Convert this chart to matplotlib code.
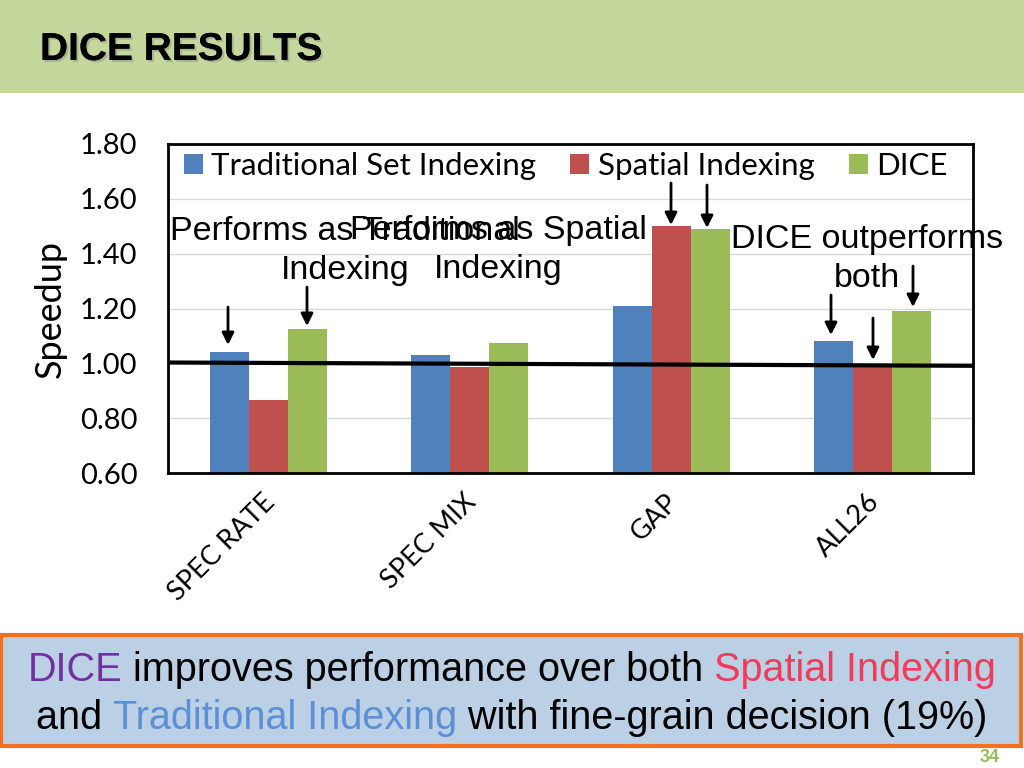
import matplotlib
matplotlib.use("Agg")
import matplotlib.pyplot as plt
import matplotlib.patheffects as pe
import matplotlib.transforms as mtransforms
from matplotlib.patches import Rectangle
import numpy as np

categories = ["SPEC RATE", "SPEC MIX", "GAP", "ALL26"]
traditional = [1.04, 1.03, 1.21, 1.08]
spatial = [0.865, 0.985, 1.50, 0.995]
dice = [1.125, 1.075, 1.49, 1.19]
series_names = ["Traditional Set Indexing", "Spatial Indexing", "DICE"]
yticks = [0.60, 0.80, 1.00, 1.20, 1.40, 1.60, 1.80]

W, H = 1024, 768
fig = plt.figure(figsize=(W / 100, H / 100), dpi=100)
fig.patch.set_facecolor("white")

def fx(px):
    return px / W

def fy(py):
    return 1 - py / H

# header band
fig.patches.append(Rectangle((0, fy(93)), 1, 93 / H, transform=fig.transFigure,
                             facecolor="#C4D79C", edgecolor="none", zorder=0))
fig.text(fx(40), fy(50), "DICE RESULTS", fontsize=28, fontweight="bold",
         family="Liberation Sans", va="center", ha="left", color="black",
         path_effects=[pe.withSimplePatchShadow(offset=(1.5, -1.5), shadow_rgbFace="#808080", alpha=0.4),
                       pe.Normal()])

# chart
ax = fig.add_axes([fx(168), fy(473), fx(973) - fx(168), (473 - 144) / H])
x = np.arange(len(categories))
bw = 0.194
colors = ["#4F81BD", "#C0504D", "#9BBB59"]
for i, (vals, c, name) in enumerate(zip([traditional, spatial, dice], colors, series_names)):
    ax.bar(x + (i - 1) * bw, vals, width=bw, color=c, label=name, zorder=2)

ax.set_xlim(-0.5, len(categories) - 0.5)
ax.set_ylim(0.60, 1.80)
ax.set_yticks(yticks)
ax.set_yticklabels([f"{v:.2f}" for v in yticks], family="Lato", fontsize=21)
ax.tick_params(axis="y", length=0, pad=22)
ax.tick_params(axis="x", length=0)
ax.yaxis.grid(True, color="#D9D9D9", linewidth=1, zorder=0)
ax.set_axisbelow(True)
for s in ax.spines.values():
    s.set_linewidth(2)
    s.set_color("black")
ax.set_xticks(x)
ax.set_xticklabels(categories, rotation=45, ha="right", va="top", rotation_mode="anchor",
                   family="Lato", fontsize=19.5)
shift = mtransforms.ScaledTranslation(-6 / 100, 0, fig.dpi_scale_trans)
for lbl in ax.get_xticklabels():
    lbl.set_y(-0.035)
    lbl.set_transform(lbl.get_transform() + shift)
ax.set_ylabel("Speedup", family="Lato", fontsize=26)
ax.yaxis.set_label_coords((67 - 168) / 805, 0.5)

# baseline at 1.0 (slightly tilted like the hand-drawn line)
ax.plot([-0.5, 3.5], [1.003, 0.991], color="black", linewidth=3, zorder=4, solid_capstyle="butt")

leg = ax.legend(loc="upper center", ncol=3, frameon=False, prop={"family": "Lato", "size": 22.5},
                handlelength=0.6, handleheight=0.6, handletextpad=0.27, columnspacing=1.1,
                bbox_to_anchor=(0.494, 1.06))

# annotations
afont = dict(family="Liberation Sans", fontsize=24.5, color="black", ha="center", va="center")
fig.text(fx(345), fy(251), "Performs as Traditional\nIndexing", linespacing=1.32, **afont)
fig.text(fx(498), fy(250), "Performs as Spatial\nIndexing", linespacing=1.32, **afont)
fig.text(fx(867), fy(259), "DICE outperforms\nboth", linespacing=1.32, **afont)

arrows = [(228, 307, 345), (307, 287, 326), (671, 183, 225), (707, 185, 228),
          (831, 295, 335), (873, 318, 360), (913, 266, 307)]
for px, y0, y1 in arrows:
    ax.annotate("", xy=(fx(px), fy(y1)), xytext=(fx(px), fy(y0)),
                xycoords="figure fraction", textcoords="figure fraction",
                arrowprops=dict(arrowstyle="-|>", color="black", lw=2, mutation_scale=18,
                                shrinkA=0, shrinkB=0), zorder=6)

# bottom box
fig.patches.append(Rectangle((fx(1), fy(746)), fx(1021) - fx(1), (746 - 635) / H,
                             transform=fig.transFigure, facecolor="#BCD0E5",
                             edgecolor="#F37021", linewidth=3, zorder=1))

renderer = fig.canvas.get_renderer()
bfont = dict(family="Liberation Sans", fontsize=28.5, va="center", ha="left")

def colored_line(pieces, cy, cx=512):
    texts = []
    widths = []
    for s, c in pieces:
        t = fig.text(0, fy(cy), s, color=c, **bfont)
        bb = t.get_window_extent(renderer=renderer)
        texts.append(t)
        widths.append(bb.width)
    total = sum(widths)
    start = cx - total / 2
    for t, w in zip(texts, widths):
        t.set_x(fx(start))
        start += w

colored_line([("DICE", "#7030A0"), (" improves performance over both ", "black"),
              ("Spatial Indexing", "#F03C5A")], 670)
colored_line([("and ", "black"), ("Traditional Indexing", "#5B8FD6"),
              (" with fine-grain decision (19%)", "black")], 718)

fig.text(fx(990), fy(757), "34", color="#9BBB59", fontsize=13, fontweight="bold",
         family="Liberation Sans", ha="center", va="center")

fig.savefig("out.png", dpi=100)
